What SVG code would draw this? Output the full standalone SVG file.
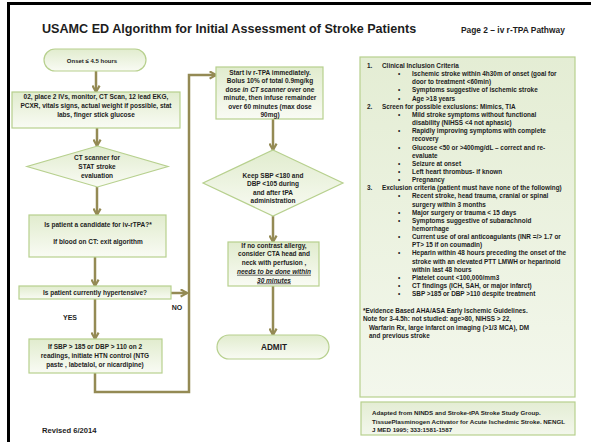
<svg xmlns="http://www.w3.org/2000/svg" width="591" height="442" viewBox="0 0 591 442">
  <style>
    .box { fill: url(#boxFill); stroke: #b7d08e; stroke-width: 1.2; }
    .panel { fill: url(#panelFill); stroke: #b7d08e; stroke-width: 1.2; }
    .conn { fill: none; stroke: #948a54; stroke-width: 2.5; }
    .t { font-family: "Liberation Sans", Arial, sans-serif; font-weight: bold; font-size: 6.5px; fill: #1d1d1d; text-anchor: middle; }
    .l { text-anchor: start; }
    .b { font-size: 6.4px; }
    .ar { font-family: "Liberation Sans", Arial, sans-serif; font-weight: bold; font-size: 6.4px; fill: #1d1d1d; }
    .u { text-decoration: underline; font-style: italic; }
  </style>
  <defs>
    <linearGradient id="boxFill" x1="0" y1="0" x2="0" y2="1">
      <stop offset="0" stop-color="#e1ecce"/>
      <stop offset="1" stop-color="#f9fbf4"/>
    </linearGradient>
    <linearGradient id="panelFill" x1="0" y1="0" x2="0" y2="1">
      <stop offset="0" stop-color="#e4edd4"/>
      <stop offset="1" stop-color="#f3f7ec"/>
    </linearGradient>
    <marker id="arrow" viewBox="0 0 10 10" refX="8.6" refY="5" markerWidth="9" markerHeight="9" markerUnits="userSpaceOnUse" orient="auto">
      <path d="M1.5,1 L8.6,5 L1.5,9" fill="none" stroke="#948a54" stroke-width="2.4"/>
    </marker>
  </defs>

  <!-- page frame -->
  <rect x="0" y="0" width="591" height="442" fill="#ffffff"/>
  <line x1="7" y1="3.5" x2="591" y2="3.5" stroke="#000" stroke-width="3"/>
  <line x1="8.5" y1="2" x2="8.5" y2="442" stroke="#000" stroke-width="3"/>

  <!-- headings -->
  <text class="t l" x="42" y="33" style="font-size:12.6px">USAMC ED Algorithm for Initial Assessment of Stroke Patients</text>
  <text class="t l" x="461" y="33" style="font-size:8.4px">Page 2 – iv r-TPA Pathway</text>

  <!-- connectors -->
  <g id="connectors">
    <line class="conn" x1="96" y1="71" x2="96" y2="92" marker-end="url(#arrow)"/>
    <line class="conn" x1="97" y1="128" x2="97" y2="146" marker-end="url(#arrow)"/>
    <line class="conn" x1="97" y1="187" x2="97" y2="215" marker-end="url(#arrow)"/>
    <line class="conn" x1="95" y1="257" x2="95" y2="286" marker-end="url(#arrow)"/>
    <line class="conn" x1="95" y1="299" x2="95" y2="339" marker-end="url(#arrow)"/>
    <line class="conn" x1="171" y1="293" x2="187" y2="293" marker-end="url(#arrow)"/>
    <polyline class="conn" points="95,373 95,392 189,392 189,75 216,75" marker-end="url(#arrow)"/>
    <line class="conn" x1="273" y1="119" x2="273" y2="150" marker-end="url(#arrow)"/>
    <line class="conn" x1="273" y1="216" x2="273" y2="242" marker-end="url(#arrow)"/>
    <line class="conn" x1="273" y1="286" x2="273" y2="335" marker-end="url(#arrow)"/>
  </g>

  <!-- left column -->
  <g id="onset">
    <rect class="box" x="44" y="49" width="102" height="22" rx="11"/>
    <text class="t" x="92" y="62.5" style="font-size:6px">Onset ≤  4.5 hours</text>
  </g>
  <g id="initial-orders">
    <rect class="box" x="12" y="92" width="168" height="36"/>
    <text class="t" x="96" y="98.5">02, place 2 IVs, monitor, CT Scan, 12 lead EKG,</text>
    <text class="t" x="96" y="107.5">PCXR, vitals signs, actual weight if possible, stat</text>
    <text class="t" x="96" y="116.5">labs, finger stick glucose</text>
  </g>
  <g id="ct-scanner">
    <polygon class="box" points="97.5,146 168,166.5 97.5,187 27,166.5"/>
    <text class="t" x="97" y="160">CT scanner for</text>
    <text class="t" x="97" y="169">STAT stroke</text>
    <text class="t" x="97" y="178">evaluation</text>
  </g>
  <g id="candidate">
    <rect class="box" x="29" y="215" width="137" height="42"/>
    <text class="t" x="98" y="226.5">Is patient a candidate for iv-rTPA?*</text>
    <text class="t" x="98" y="243.5">If blood on CT: exit algorithm</text>
  </g>
  <g id="hypertensive">
    <rect class="box" x="19" y="286" width="152" height="13"/>
    <text class="t" x="95" y="295.2">Is patient currently hypertensive?</text>
  </g>
  <text class="t" x="177" y="310" style="font-size:7px">NO</text>
  <text class="t" x="70" y="320" style="font-size:7px">YES</text>
  <g id="htn-control">
    <rect class="box" x="29" y="339" width="133" height="34"/>
    <text class="t" x="95" y="349">If SBP &gt; 185 or DBP &gt; 110 on 2</text>
    <text class="t" x="95" y="358">readings, initiate HTN control (NTG</text>
    <text class="t" x="95" y="367">paste , labetalol, or nicardipine)</text>
  </g>
  <text class="ar" x="42" y="433" style="font-size:7.6px">Revised 6/2014</text>

  <!-- middle column -->
  <g id="start-tpa">
    <rect class="box" x="216" y="67" width="107" height="52"/>
    <text class="t" x="270" y="74.5">Start iv r-TPA immediately.</text>
    <text class="t" x="270" y="83">Bolus 10% of total 0.9mg/kg</text>
    <text class="t" x="270" y="91.5">dose <tspan font-style="italic">in CT scanner</tspan> over one</text>
    <text class="t" x="270" y="100">minute, then infuse remainder</text>
    <text class="t" x="270" y="108.5">over 60 minutes (max dose</text>
    <text class="t" x="270" y="117">90mg)</text>
  </g>
  <g id="bp-target">
    <polygon class="box" points="273,150 343,183 273,216 203,183"/>
    <text class="t" x="273" y="177.5">Keep SBP &lt;180 and</text>
    <text class="t" x="273" y="186">DBP &lt;105 during</text>
    <text class="t" x="273" y="194.5">and after tPA</text>
    <text class="t" x="273" y="203">administration</text>
  </g>
  <g id="cta">
    <rect class="box" x="228" y="242" width="91" height="44"/>
    <text class="t" x="274" y="247.5">If no contrast allergy,</text>
    <text class="t" x="274" y="256.3">consider CTA head and</text>
    <text class="t" x="274" y="265">neck with perfusion ,</text>
    <text class="t u" x="274" y="273.8">needs to be done within</text>
    <text class="t u" x="274" y="282.5">30 minutes</text>
  </g>
  <g id="admit">
    <rect class="box" x="217" y="335" width="112" height="24" rx="12"/>
    <text class="t" x="274" y="350" style="font-size:8.2px">ADMIT</text>
  </g>

  <!-- criteria panel -->
  <g id="criteria">
    <rect class="panel" x="360" y="57" width="215" height="340"/>
    <g class="b">
      <text class="t l b" x="367" y="68">1.</text>
      <text class="t l b" x="382" y="68">Clinical Inclusion Criteria</text>
      <text class="t l b" x="398" y="76.15">•</text>
      <text class="t l b" x="412" y="76.15">Ischemic stroke within 4h30m of onset (goal for</text>
      <text class="t l b" x="412" y="84.3">door to treatment &lt;60min)</text>
      <text class="t l b" x="398" y="92.45">•</text>
      <text class="t l b" x="412" y="92.45">Symptoms suggestive of ischemic stroke</text>
      <text class="t l b" x="398" y="100.6">•</text>
      <text class="t l b" x="412" y="100.6">Age &gt;18 years</text>
      <text class="t l b" x="367" y="108.75">2.</text>
      <text class="t l b" x="382" y="108.75">Screen for possible exclusions: Mimics, TIA</text>
      <text class="t l b" x="398" y="116.9">•</text>
      <text class="t l b" x="412" y="116.9">Mild stroke symptoms without functional</text>
      <text class="t l b" x="412" y="125.05">disability (NIHSS &lt;4 not aphasic)</text>
      <text class="t l b" x="398" y="133.2">•</text>
      <text class="t l b" x="412" y="133.2">Rapidly improving symptoms with complete</text>
      <text class="t l b" x="412" y="141.35">recovery</text>
      <text class="t l b" x="398" y="149.5">•</text>
      <text class="t l b" x="412" y="149.5">Glucose &lt;50 or &gt;400mg/dL – correct and re-</text>
      <text class="t l b" x="412" y="157.65">evaluate</text>
      <text class="t l b" x="398" y="165.8">•</text>
      <text class="t l b" x="412" y="165.8">Seizure at onset</text>
      <text class="t l b" x="398" y="173.95">•</text>
      <text class="t l b" x="412" y="173.95">Left heart thrombus- if known</text>
      <text class="t l b" x="398" y="182.1">•</text>
      <text class="t l b" x="412" y="182.1">Pregnancy</text>
      <text class="t l b" x="367" y="190.25">3.</text>
      <text class="t l b" x="382" y="190.25">Exclusion criteria (patient must have none of the following)</text>
      <text class="t l b" x="398" y="198.4">•</text>
      <text class="t l b" x="412" y="198.4">Recent stroke, head trauma, cranial or spinal</text>
      <text class="t l b" x="412" y="206.55">surgery within 3 months</text>
      <text class="t l b" x="398" y="214.7">•</text>
      <text class="t l b" x="412" y="214.7">Major surgery or trauma &lt; 15 days</text>
      <text class="t l b" x="398" y="222.85">•</text>
      <text class="t l b" x="412" y="222.85">Symptoms suggestive of subarachnoid</text>
      <text class="t l b" x="412" y="231">hemorrhage</text>
      <text class="t l b" x="398" y="239.15">•</text>
      <text class="t l b" x="412" y="239.15">Current use of oral anticoagulants (INR =/&gt; 1.7 or</text>
      <text class="t l b" x="412" y="247.3">PT&gt; 15 if on coumadin)</text>
      <text class="t l b" x="398" y="255.45">•</text>
      <text class="t l b" x="412" y="255.45">Heparin within 48 hours preceding the onset of the</text>
      <text class="t l b" x="412" y="263.6">stroke with an elevated PTT LMWH or heparinoid</text>
      <text class="t l b" x="412" y="271.75">within last 48 hours</text>
      <text class="t l b" x="398" y="279.9">•</text>
      <text class="t l b" x="412" y="279.9">Platelet count &lt;100,000/mm3</text>
      <text class="t l b" x="398" y="288.05">•</text>
      <text class="t l b" x="412" y="288.05">CT findings (ICH, SAH, or major infarct)</text>
      <text class="t l b" x="398" y="296.2">•</text>
      <text class="t l b" x="412" y="296.2">SBP &gt;185 or DBP &gt;110 despite treatment</text>
    </g>
    <text class="ar" x="363" y="313">*Evidence Based AHA/ASA Early Ischemic Guidelines.</text>
    <text class="ar" x="363" y="321.3">Note for 3-4.5h: not studied: age&gt;80, NIHSS &gt; 22,</text>
    <text class="ar" x="369" y="329.6">Warfarin Rx, large infarct on imaging (&gt;1/3 MCA), DM</text>
    <text class="ar" x="369" y="337.9">and previous stroke</text>
  </g>

  <!-- reference note -->
  <g id="reference">
    <rect class="panel" x="361" y="402" width="214" height="33"/>
    <text class="t l" x="372" y="415" style="font-size:6.2px">Adapted from NINDS and Stroke-tPA Stroke Study Group.</text>
    <text class="t l" x="372" y="423.5" style="font-size:6.2px">TissuePlasminogen  Activator for Acute Ischedmic Stroke. NENGL</text>
    <text class="t l" x="372" y="432" style="font-size:6.2px">J MED 1995; 333:1581-1587</text>
  </g>
</svg>
